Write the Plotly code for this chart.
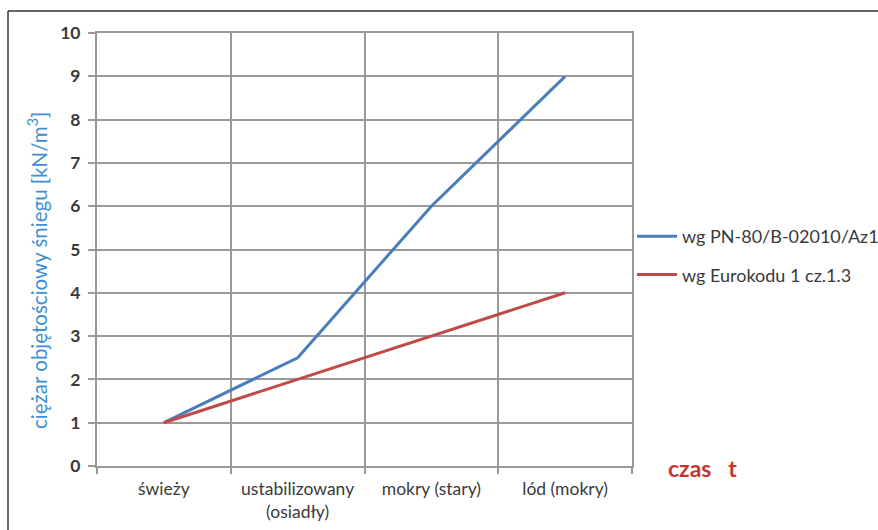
import plotly.graph_objects as go

# Snow density by snow state
categories = ["świeży", "ustabilizowany<br>(osiadły)", "mokry (stary)", "lód (mokry)"]
pn_values = [1, 2.5, 6, 9]
eurocode_values = [1, 2, 3, 4]
series_names = ["wg PN-80/B-02010/Az1", "wg Eurokodu 1 cz.1.3"]
y_ticks = list(range(0, 11))

W, H = 878, 530
L, R, T, B = 97, 246, 33, 64
pw, ph = W - L - R, H - T - B

def px_x(px):
    return (px - L) / pw

def px_y(py):
    return (H - B - py) / ph

font_family = "Lato, 'Open Sans', sans-serif"
grid_col = "#999999"
text_col = "#3a3a3a"

fig = go.Figure()
fig.add_trace(go.Scatter(
    x=categories, y=pn_values, mode="lines", name=series_names[0],
    line=dict(color="#4A7EBB", width=3), legendgroup="a"))
fig.add_trace(go.Scatter(
    x=categories, y=eurocode_values, mode="lines", name=series_names[1],
    line=dict(color="#BE4B48", width=3), legendgroup="b"))

fig.update_layout(
    width=W, height=H,
    margin=dict(l=L, r=R, t=T, b=B, autoexpand=False),
    paper_bgcolor="white", plot_bgcolor="white",
    font=dict(family=font_family, color=text_col),
    legend=dict(
        x=px_x(632), y=px_y(218), xanchor="left", yanchor="top",
        font=dict(size=18, color=text_col, family=font_family),
        tracegroupgap=12, traceorder="grouped",
        bgcolor="rgba(0,0,0,0)", itemwidth=40,
    ),
    xaxis=dict(
        type="category", range=[-0.5, 3.5], tickson="boundaries",
        showgrid=True, gridcolor=grid_col, gridwidth=2,
        showline=True, linecolor=grid_col, linewidth=2, mirror=True,
        ticks="outside", ticklen=6, tickcolor=grid_col, tickwidth=2,
        tickfont=dict(size=17.5, color=text_col, family=font_family),
        ticklabelstandoff=6,
    ),
    yaxis=dict(
        range=[0, 10], tickvals=y_ticks,
        showgrid=True, gridcolor=grid_col, gridwidth=2,
        showline=True, linecolor=grid_col, linewidth=2, mirror=True,
        zeroline=False,
        ticks="outside", ticklen=7, tickcolor=grid_col, tickwidth=2,
        tickfont=dict(size=17.5, color=text_col, family=font_family, weight=700),
        ticklabelstandoff=4,
    ),
    showlegend=True,
)

# Value axis title
fig.add_annotation(
    text="ciężar objętościowy śniegu [kN/m<sup>3</sup>]", textangle=-90,
    xref="paper", yref="paper", x=px_x(37), y=px_y(271),
    xanchor="center", yanchor="middle", showarrow=False,
    font=dict(size=20.5, color="#3F8FD2", family=font_family),
)

# Time axis label
fig.add_annotation(
    text="czas\u00a0\u00a0\u00a0t", xref="paper", yref="paper",
    x=px_x(666), y=px_y(468), xanchor="left", yanchor="middle", showarrow=False,
    font=dict(size=23, color="#C8352E", family=font_family, weight=700),
)

# Outer frame (top and left edges)
fig.add_shape(type="line", xref="paper", yref="paper",
              x0=px_x(8), x1=px_x(W + 2), y0=px_y(11), y1=px_y(11),
              line=dict(color="#333333", width=1.5))
fig.add_shape(type="line", xref="paper", yref="paper",
              x0=px_x(8), x1=px_x(8), y0=px_y(11), y1=px_y(H + 2),
              line=dict(color="#333333", width=1.5))

fig.write_html("out.html")
